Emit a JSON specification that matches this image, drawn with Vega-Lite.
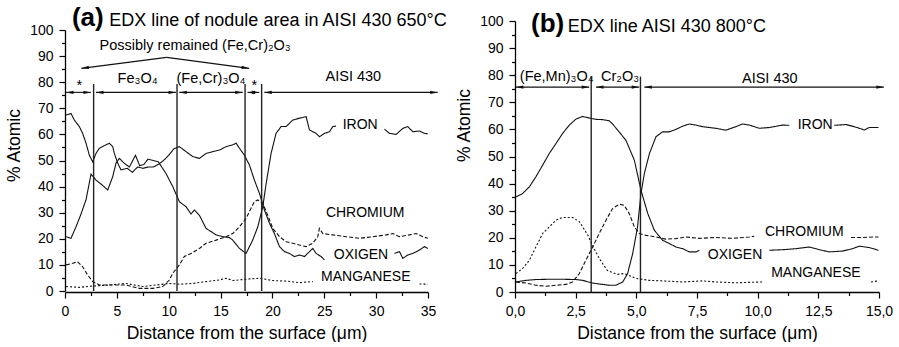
{
"$schema": "https://vega.github.io/schema/vega-lite/v6.json",
"padding": {"left": 5, "top": 5, "right": 0, "bottom": 0},
"config": {
  "font": "Liberation Sans",
  "view": {"stroke": null},
  "axis": {"domainColor": "#000", "tickColor": "#000", "labelColor": "#000", "titleColor": "#000", "labelFontSize": 14, "titleFontSize": 17.5, "titleFontWeight": "normal", "grid": false, "domainWidth": 1.3, "tickWidth": 1.2, "labelPadding": 6, "labelFlush": false, "labelOverlap": false, "labelFont": "Liberation Sans", "titleFont": "Liberation Sans"}
},
"datasets": {
  "curves": [
    {"p":"a","e":"IRON","g":"aF1","x":0.1,"y":20.8},{"p":"a","e":"IRON","g":"aF1","x":0.58,"y":20.2},{"p":"a","e":"IRON","g":"aF1","x":1.06,"y":24.6},{"p":"a","e":"IRON","g":"aF1","x":1.5,"y":29},{"p":"a","e":"IRON","g":"aF1","x":2.03,"y":35},{"p":"a","e":"IRON","g":"aF1","x":2.51,"y":44.8},{"p":"a","e":"IRON","g":"aF1","x":2.99,"y":42.5},{"p":"a","e":"IRON","g":"aF1","x":3.47,"y":41},{"p":"a","e":"IRON","g":"aF1","x":4.12,"y":38.7},{"p":"a","e":"IRON","g":"aF1","x":4.6,"y":43.8},{"p":"a","e":"IRON","g":"aF1","x":4.92,"y":49},{"p":"a","e":"IRON","g":"aF1","x":5.24,"y":50.8},{"p":"a","e":"IRON","g":"aF1","x":5.7,"y":49},{"p":"a","e":"IRON","g":"aF1","x":6.2,"y":47.5},{"p":"a","e":"IRON","g":"aF1","x":6.8,"y":52},{"p":"a","e":"IRON","g":"aF1","x":7.2,"y":48},{"p":"a","e":"IRON","g":"aF1","x":7.6,"y":48.5},{"p":"a","e":"IRON","g":"aF1","x":8,"y":50.5},{"p":"a","e":"IRON","g":"aF1","x":8.5,"y":50},{"p":"a","e":"IRON","g":"aF1","x":9,"y":49.5},{"p":"a","e":"IRON","g":"aF1","x":9.74,"y":45},{"p":"a","e":"IRON","g":"aF1","x":10.39,"y":40},{"p":"a","e":"IRON","g":"aF1","x":11.03,"y":34.2},{"p":"a","e":"IRON","g":"aF1","x":11.67,"y":32.3},{"p":"a","e":"IRON","g":"aF1","x":12.15,"y":29.5},{"p":"a","e":"IRON","g":"aF1","x":12.48,"y":31},{"p":"a","e":"IRON","g":"aF1","x":12.96,"y":29},{"p":"a","e":"IRON","g":"aF1","x":13.6,"y":24},{"p":"a","e":"IRON","g":"aF1","x":14.57,"y":21.5},{"p":"a","e":"IRON","g":"aF1","x":15.2,"y":20.8},{"p":"a","e":"IRON","g":"aF1","x":15.85,"y":20.5},{"p":"a","e":"IRON","g":"aF1","x":16.17,"y":19.5},{"p":"a","e":"IRON","g":"aF1","x":16.82,"y":16.3},{"p":"a","e":"IRON","g":"aF1","x":17.46,"y":14.4},{"p":"a","e":"IRON","g":"aF1","x":18.1,"y":19.5},{"p":"a","e":"IRON","g":"aF1","x":18.59,"y":24.6},{"p":"a","e":"IRON","g":"aF1","x":19.07,"y":32.3},{"p":"a","e":"IRON","g":"aF1","x":19.39,"y":41},{"p":"a","e":"IRON","g":"aF1","x":19.87,"y":52.7},{"p":"a","e":"IRON","g":"aF1","x":20.35,"y":60.4},{"p":"a","e":"IRON","g":"aF1","x":20.84,"y":63},{"p":"a","e":"IRON","g":"aF1","x":21.32,"y":63},{"p":"a","e":"IRON","g":"aF1","x":21.96,"y":65.5},{"p":"a","e":"IRON","g":"aF1","x":22.6,"y":66.2},{"p":"a","e":"IRON","g":"aF1","x":23.25,"y":66.8},{"p":"a","e":"IRON","g":"aF1","x":23.57,"y":61.7},{"p":"a","e":"IRON","g":"aF1","x":24.21,"y":60.4},{"p":"a","e":"IRON","g":"aF1","x":24.53,"y":59.1},{"p":"a","e":"IRON","g":"aF1","x":25.02,"y":60.4},{"p":"a","e":"IRON","g":"aF1","x":25.5,"y":61},{"p":"a","e":"IRON","g":"aF1","x":25.82,"y":63},{"p":"a","e":"IRON","g":"aF1","x":26.14,"y":63.2},
    {"p":"a","e":"IRON","g":"aF2","x":30.8,"y":62},{"p":"a","e":"IRON","g":"aF2","x":31.29,"y":60.4},{"p":"a","e":"IRON","g":"aF2","x":31.93,"y":60},{"p":"a","e":"IRON","g":"aF2","x":32.57,"y":62.3},{"p":"a","e":"IRON","g":"aF2","x":33.05,"y":63},{"p":"a","e":"IRON","g":"aF2","x":33.54,"y":61},{"p":"a","e":"IRON","g":"aF2","x":34.18,"y":61.3},{"p":"a","e":"IRON","g":"aF2","x":34.66,"y":60.4},{"p":"a","e":"IRON","g":"aF2","x":34.98,"y":60.2},
    {"p":"a","e":"OXIGEN","g":"aO1","x":0.1,"y":67.4},{"p":"a","e":"OXIGEN","g":"aO1","x":0.58,"y":68},{"p":"a","e":"OXIGEN","g":"aO1","x":0.9,"y":65.5},{"p":"a","e":"OXIGEN","g":"aO1","x":1.38,"y":63},{"p":"a","e":"OXIGEN","g":"aO1","x":1.7,"y":60.4},{"p":"a","e":"OXIGEN","g":"aO1","x":2.03,"y":56.6},{"p":"a","e":"OXIGEN","g":"aO1","x":2.35,"y":52},{"p":"a","e":"OXIGEN","g":"aO1","x":2.67,"y":49.5},{"p":"a","e":"OXIGEN","g":"aO1","x":2.99,"y":52.7},{"p":"a","e":"OXIGEN","g":"aO1","x":3.31,"y":54.7},{"p":"a","e":"OXIGEN","g":"aO1","x":3.95,"y":56},{"p":"a","e":"OXIGEN","g":"aO1","x":4.28,"y":56.6},{"p":"a","e":"OXIGEN","g":"aO1","x":4.6,"y":55.3},{"p":"a","e":"OXIGEN","g":"aO1","x":4.76,"y":52.7},{"p":"a","e":"OXIGEN","g":"aO1","x":5.08,"y":49},{"p":"a","e":"OXIGEN","g":"aO1","x":5.4,"y":46.4},{"p":"a","e":"OXIGEN","g":"aO1","x":6,"y":47},{"p":"a","e":"OXIGEN","g":"aO1","x":6.5,"y":45.5},{"p":"a","e":"OXIGEN","g":"aO1","x":7,"y":47.5},{"p":"a","e":"OXIGEN","g":"aO1","x":7.5,"y":47},{"p":"a","e":"OXIGEN","g":"aO1","x":8,"y":47.5},{"p":"a","e":"OXIGEN","g":"aO1","x":8.5,"y":47.5},{"p":"a","e":"OXIGEN","g":"aO1","x":9,"y":48.5},{"p":"a","e":"OXIGEN","g":"aO1","x":9.5,"y":50},{"p":"a","e":"OXIGEN","g":"aO1","x":10,"y":52},{"p":"a","e":"OXIGEN","g":"aO1","x":10.5,"y":54.5},{"p":"a","e":"OXIGEN","g":"aO1","x":11.03,"y":55.3},{"p":"a","e":"OXIGEN","g":"aO1","x":11.67,"y":53.4},{"p":"a","e":"OXIGEN","g":"aO1","x":12.32,"y":51.5},{"p":"a","e":"OXIGEN","g":"aO1","x":12.96,"y":50.8},{"p":"a","e":"OXIGEN","g":"aO1","x":13.6,"y":52.7},{"p":"a","e":"OXIGEN","g":"aO1","x":14.24,"y":53.4},{"p":"a","e":"OXIGEN","g":"aO1","x":14.89,"y":54},{"p":"a","e":"OXIGEN","g":"aO1","x":15.53,"y":55.3},{"p":"a","e":"OXIGEN","g":"aO1","x":16.17,"y":56},{"p":"a","e":"OXIGEN","g":"aO1","x":16.5,"y":56.6},{"p":"a","e":"OXIGEN","g":"aO1","x":16.82,"y":54.7},{"p":"a","e":"OXIGEN","g":"aO1","x":17.3,"y":52},{"p":"a","e":"OXIGEN","g":"aO1","x":17.78,"y":48.3},{"p":"a","e":"OXIGEN","g":"aO1","x":18.26,"y":42.5},{"p":"a","e":"OXIGEN","g":"aO1","x":18.75,"y":37.4},{"p":"a","e":"OXIGEN","g":"aO1","x":19.23,"y":31},{"p":"a","e":"OXIGEN","g":"aO1","x":19.71,"y":26},{"p":"a","e":"OXIGEN","g":"aO1","x":20.19,"y":22},{"p":"a","e":"OXIGEN","g":"aO1","x":20.68,"y":17},{"p":"a","e":"OXIGEN","g":"aO1","x":21.16,"y":15.1},{"p":"a","e":"OXIGEN","g":"aO1","x":21.64,"y":14.4},{"p":"a","e":"OXIGEN","g":"aO1","x":22.12,"y":13.2},{"p":"a","e":"OXIGEN","g":"aO1","x":22.6,"y":13.8},{"p":"a","e":"OXIGEN","g":"aO1","x":23.09,"y":13.2},{"p":"a","e":"OXIGEN","g":"aO1","x":23.57,"y":15.1},{"p":"a","e":"OXIGEN","g":"aO1","x":23.89,"y":16.3},{"p":"a","e":"OXIGEN","g":"aO1","x":24.21,"y":14.4},{"p":"a","e":"OXIGEN","g":"aO1","x":24.69,"y":13.2},{"p":"a","e":"OXIGEN","g":"aO1","x":25.02,"y":11.9},
    {"p":"a","e":"OXIGEN","g":"aO2","x":31.77,"y":14.4},{"p":"a","e":"OXIGEN","g":"aO2","x":32.25,"y":15.1},{"p":"a","e":"OXIGEN","g":"aO2","x":32.57,"y":12.5},{"p":"a","e":"OXIGEN","g":"aO2","x":33.05,"y":13.8},{"p":"a","e":"OXIGEN","g":"aO2","x":33.54,"y":14.4},{"p":"a","e":"OXIGEN","g":"aO2","x":34.18,"y":15.7},{"p":"a","e":"OXIGEN","g":"aO2","x":34.66,"y":17},{"p":"a","e":"OXIGEN","g":"aO2","x":34.98,"y":16.3},
    {"p":"a","e":"CHROMIUM","g":"aC1","x":0.1,"y":10},{"p":"a","e":"CHROMIUM","g":"aC1","x":0.74,"y":10.6},{"p":"a","e":"CHROMIUM","g":"aC1","x":1.22,"y":11.2},{"p":"a","e":"CHROMIUM","g":"aC1","x":1.7,"y":9.3},{"p":"a","e":"CHROMIUM","g":"aC1","x":2.19,"y":6.1},{"p":"a","e":"CHROMIUM","g":"aC1","x":2.67,"y":3.6},{"p":"a","e":"CHROMIUM","g":"aC1","x":3.31,"y":2.3},{"p":"a","e":"CHROMIUM","g":"aC1","x":4.6,"y":2.3},{"p":"a","e":"CHROMIUM","g":"aC1","x":5.88,"y":2.3},{"p":"a","e":"CHROMIUM","g":"aC1","x":7.17,"y":1},{"p":"a","e":"CHROMIUM","g":"aC1","x":8.46,"y":1},{"p":"a","e":"CHROMIUM","g":"aC1","x":9.42,"y":1.7},{"p":"a","e":"CHROMIUM","g":"aC1","x":10.06,"y":4.2},{"p":"a","e":"CHROMIUM","g":"aC1","x":10.39,"y":6.8},{"p":"a","e":"CHROMIUM","g":"aC1","x":11.03,"y":10},{"p":"a","e":"CHROMIUM","g":"aC1","x":11.51,"y":13.2},{"p":"a","e":"CHROMIUM","g":"aC1","x":12.15,"y":14.4},{"p":"a","e":"CHROMIUM","g":"aC1","x":12.96,"y":16.3},{"p":"a","e":"CHROMIUM","g":"aC1","x":13.6,"y":18.3},{"p":"a","e":"CHROMIUM","g":"aC1","x":14.57,"y":19.5},{"p":"a","e":"CHROMIUM","g":"aC1","x":15.53,"y":20.8},{"p":"a","e":"CHROMIUM","g":"aC1","x":16.17,"y":22},{"p":"a","e":"CHROMIUM","g":"aC1","x":16.82,"y":24.6},{"p":"a","e":"CHROMIUM","g":"aC1","x":17.46,"y":27.8},{"p":"a","e":"CHROMIUM","g":"aC1","x":17.94,"y":31.7},{"p":"a","e":"CHROMIUM","g":"aC1","x":18.26,"y":34.2},{"p":"a","e":"CHROMIUM","g":"aC1","x":18.59,"y":34.9},{"p":"a","e":"CHROMIUM","g":"aC1","x":19.07,"y":33.6},{"p":"a","e":"CHROMIUM","g":"aC1","x":19.55,"y":29},{"p":"a","e":"CHROMIUM","g":"aC1","x":20.03,"y":24},{"p":"a","e":"CHROMIUM","g":"aC1","x":20.68,"y":20.8},{"p":"a","e":"CHROMIUM","g":"aC1","x":21.32,"y":18.9},{"p":"a","e":"CHROMIUM","g":"aC1","x":21.96,"y":18.3},{"p":"a","e":"CHROMIUM","g":"aC1","x":22.6,"y":17.6},{"p":"a","e":"CHROMIUM","g":"aC1","x":23.25,"y":17},{"p":"a","e":"CHROMIUM","g":"aC1","x":23.89,"y":18.3},{"p":"a","e":"CHROMIUM","g":"aC1","x":24.37,"y":20.8},{"p":"a","e":"CHROMIUM","g":"aC1","x":24.53,"y":24},{"p":"a","e":"CHROMIUM","g":"aC1","x":24.86,"y":22},{"p":"a","e":"CHROMIUM","g":"aC1","x":25.82,"y":21.5},{"p":"a","e":"CHROMIUM","g":"aC1","x":27.11,"y":20.8},{"p":"a","e":"CHROMIUM","g":"aC1","x":28.39,"y":20.2},{"p":"a","e":"CHROMIUM","g":"aC1","x":29.68,"y":20.8},{"p":"a","e":"CHROMIUM","g":"aC1","x":30.96,"y":21.5},{"p":"a","e":"CHROMIUM","g":"aC1","x":31.61,"y":22},{"p":"a","e":"CHROMIUM","g":"aC1","x":32.25,"y":20.8},{"p":"a","e":"CHROMIUM","g":"aC1","x":33.22,"y":21.5},{"p":"a","e":"CHROMIUM","g":"aC1","x":33.86,"y":22},{"p":"a","e":"CHROMIUM","g":"aC1","x":34.5,"y":20.8},{"p":"a","e":"CHROMIUM","g":"aC1","x":34.98,"y":20.2},
    {"p":"a","e":"MANGANESE","g":"aM1","x":0.1,"y":1.7},{"p":"a","e":"MANGANESE","g":"aM1","x":1.38,"y":1.4},{"p":"a","e":"MANGANESE","g":"aM1","x":2.67,"y":1.9},{"p":"a","e":"MANGANESE","g":"aM1","x":4.28,"y":2.3},{"p":"a","e":"MANGANESE","g":"aM1","x":5.88,"y":2.9},{"p":"a","e":"MANGANESE","g":"aM1","x":7.49,"y":1.7},{"p":"a","e":"MANGANESE","g":"aM1","x":8.78,"y":2.3},{"p":"a","e":"MANGANESE","g":"aM1","x":10.06,"y":2.9},{"p":"a","e":"MANGANESE","g":"aM1","x":11.03,"y":2.6},{"p":"a","e":"MANGANESE","g":"aM1","x":12.32,"y":2.9},{"p":"a","e":"MANGANESE","g":"aM1","x":13.6,"y":3.6},{"p":"a","e":"MANGANESE","g":"aM1","x":14.89,"y":4.2},{"p":"a","e":"MANGANESE","g":"aM1","x":15.53,"y":4.9},{"p":"a","e":"MANGANESE","g":"aM1","x":16.17,"y":4},{"p":"a","e":"MANGANESE","g":"aM1","x":17.46,"y":4.5},{"p":"a","e":"MANGANESE","g":"aM1","x":18.75,"y":4.9},{"p":"a","e":"MANGANESE","g":"aM1","x":20.03,"y":4},{"p":"a","e":"MANGANESE","g":"aM1","x":21.32,"y":3.8},{"p":"a","e":"MANGANESE","g":"aM1","x":22.6,"y":3.2},{"p":"a","e":"MANGANESE","g":"aM1","x":23.89,"y":3.6},
    {"p":"a","e":"MANGANESE","g":"aM2","x":34.18,"y":2.7},{"p":"a","e":"MANGANESE","g":"aM2","x":34.98,"y":2.6},
    {"p":"b","e":"OXIGEN","g":"bO1","x":0.04,"y":35.1},{"p":"b","e":"OXIGEN","g":"bO1","x":0.31,"y":36.3},{"p":"b","e":"OXIGEN","g":"bO1","x":0.59,"y":38.8},{"p":"b","e":"OXIGEN","g":"bO1","x":0.86,"y":42.5},{"p":"b","e":"OXIGEN","g":"bO1","x":1.14,"y":46.8},{"p":"b","e":"OXIGEN","g":"bO1","x":1.41,"y":51.1},{"p":"b","e":"OXIGEN","g":"bO1","x":1.69,"y":54.8},{"p":"b","e":"OXIGEN","g":"bO1","x":1.96,"y":58.5},{"p":"b","e":"OXIGEN","g":"bO1","x":2.24,"y":61.6},{"p":"b","e":"OXIGEN","g":"bO1","x":2.51,"y":63.8},{"p":"b","e":"OXIGEN","g":"bO1","x":2.79,"y":64.8},{"p":"b","e":"OXIGEN","g":"bO1","x":3.06,"y":64.2},{"p":"b","e":"OXIGEN","g":"bO1","x":3.34,"y":63.7},{"p":"b","e":"OXIGEN","g":"bO1","x":3.61,"y":63.6},{"p":"b","e":"OXIGEN","g":"bO1","x":3.88,"y":63.2},{"p":"b","e":"OXIGEN","g":"bO1","x":4.02,"y":62},{"p":"b","e":"OXIGEN","g":"bO1","x":4.3,"y":59},{"p":"b","e":"OXIGEN","g":"bO1","x":4.57,"y":56},{"p":"b","e":"OXIGEN","g":"bO1","x":4.92,"y":48.6},{"p":"b","e":"OXIGEN","g":"bO1","x":5.19,"y":37.6},{"p":"b","e":"OXIGEN","g":"bO1","x":5.47,"y":29},{"p":"b","e":"OXIGEN","g":"bO1","x":5.74,"y":22.8},{"p":"b","e":"OXIGEN","g":"bO1","x":6.08,"y":19.1},{"p":"b","e":"OXIGEN","g":"bO1","x":6.36,"y":17.9},{"p":"b","e":"OXIGEN","g":"bO1","x":6.63,"y":16.6},{"p":"b","e":"OXIGEN","g":"bO1","x":6.91,"y":16},{"p":"b","e":"OXIGEN","g":"bO1","x":7.18,"y":14.8},{"p":"b","e":"OXIGEN","g":"bO1","x":7.46,"y":14.8},{"p":"b","e":"OXIGEN","g":"bO1","x":7.6,"y":15.4},
    {"p":"b","e":"OXIGEN","g":"bO2","x":10.48,"y":15.4},{"p":"b","e":"OXIGEN","g":"bO2","x":11.03,"y":15.6},{"p":"b","e":"OXIGEN","g":"bO2","x":11.58,"y":16},{"p":"b","e":"OXIGEN","g":"bO2","x":12.13,"y":16.6},{"p":"b","e":"OXIGEN","g":"bO2","x":12.54,"y":15.6},{"p":"b","e":"OXIGEN","g":"bO2","x":12.95,"y":14.8},{"p":"b","e":"OXIGEN","g":"bO2","x":13.5,"y":15.1},{"p":"b","e":"OXIGEN","g":"bO2","x":13.91,"y":16},{"p":"b","e":"OXIGEN","g":"bO2","x":14.19,"y":16.9},{"p":"b","e":"OXIGEN","g":"bO2","x":14.6,"y":16.4},{"p":"b","e":"OXIGEN","g":"bO2","x":14.98,"y":15.4},
    {"p":"b","e":"IRON","g":"bF1","x":0.04,"y":3.7},{"p":"b","e":"IRON","g":"bF1","x":0.45,"y":4.3},{"p":"b","e":"IRON","g":"bF1","x":0.86,"y":4.6},{"p":"b","e":"IRON","g":"bF1","x":1.41,"y":4.7},{"p":"b","e":"IRON","g":"bF1","x":1.96,"y":4.7},{"p":"b","e":"IRON","g":"bF1","x":2.51,"y":4.6},{"p":"b","e":"IRON","g":"bF1","x":2.79,"y":4.3},{"p":"b","e":"IRON","g":"bF1","x":3.2,"y":3.3},{"p":"b","e":"IRON","g":"bF1","x":3.61,"y":2.8},{"p":"b","e":"IRON","g":"bF1","x":3.88,"y":2.5},{"p":"b","e":"IRON","g":"bF1","x":4.16,"y":2.5},{"p":"b","e":"IRON","g":"bF1","x":4.44,"y":3.7},{"p":"b","e":"IRON","g":"bF1","x":4.64,"y":6.8},{"p":"b","e":"IRON","g":"bF1","x":4.85,"y":14.2},{"p":"b","e":"IRON","g":"bF1","x":5.05,"y":24},{"p":"b","e":"IRON","g":"bF1","x":5.19,"y":36.3},{"p":"b","e":"IRON","g":"bF1","x":5.33,"y":43.7},{"p":"b","e":"IRON","g":"bF1","x":5.54,"y":51.1},{"p":"b","e":"IRON","g":"bF1","x":5.81,"y":57.3},{"p":"b","e":"IRON","g":"bF1","x":6.08,"y":59.1},{"p":"b","e":"IRON","g":"bF1","x":6.36,"y":59.1},{"p":"b","e":"IRON","g":"bF1","x":6.63,"y":60},{"p":"b","e":"IRON","g":"bF1","x":6.91,"y":61.2},{"p":"b","e":"IRON","g":"bF1","x":7.18,"y":62},{"p":"b","e":"IRON","g":"bF1","x":7.46,"y":61.6},{"p":"b","e":"IRON","g":"bF1","x":7.73,"y":61},{"p":"b","e":"IRON","g":"bF1","x":8.28,"y":60.4},{"p":"b","e":"IRON","g":"bF1","x":8.69,"y":59.7},{"p":"b","e":"IRON","g":"bF1","x":9.1,"y":61},{"p":"b","e":"IRON","g":"bF1","x":9.38,"y":62},{"p":"b","e":"IRON","g":"bF1","x":9.65,"y":61.6},{"p":"b","e":"IRON","g":"bF1","x":10.07,"y":60.4},{"p":"b","e":"IRON","g":"bF1","x":10.48,"y":60.7},{"p":"b","e":"IRON","g":"bF1","x":11.03,"y":61.6},{"p":"b","e":"IRON","g":"bF1","x":11.3,"y":61.5},
    {"p":"b","e":"IRON","g":"bF2","x":13.16,"y":61.5},{"p":"b","e":"IRON","g":"bF2","x":13.64,"y":61.8},{"p":"b","e":"IRON","g":"bF2","x":13.98,"y":61},{"p":"b","e":"IRON","g":"bF2","x":14.4,"y":59.8},{"p":"b","e":"IRON","g":"bF2","x":14.6,"y":60.7},{"p":"b","e":"IRON","g":"bF2","x":14.98,"y":60.7},
    {"p":"b","e":"MANGANESE","g":"bM1","x":0.04,"y":6.8},{"p":"b","e":"MANGANESE","g":"bM1","x":0.31,"y":8.6},{"p":"b","e":"MANGANESE","g":"bM1","x":0.59,"y":11.7},{"p":"b","e":"MANGANESE","g":"bM1","x":0.86,"y":16.6},{"p":"b","e":"MANGANESE","g":"bM1","x":1.14,"y":21.6},{"p":"b","e":"MANGANESE","g":"bM1","x":1.41,"y":24},{"p":"b","e":"MANGANESE","g":"bM1","x":1.69,"y":26.5},{"p":"b","e":"MANGANESE","g":"bM1","x":1.96,"y":27.5},{"p":"b","e":"MANGANESE","g":"bM1","x":2.37,"y":27.5},{"p":"b","e":"MANGANESE","g":"bM1","x":2.65,"y":26},{"p":"b","e":"MANGANESE","g":"bM1","x":3.0,"y":21},{"p":"b","e":"MANGANESE","g":"bM1","x":3.2,"y":17},{"p":"b","e":"MANGANESE","g":"bM1","x":3.5,"y":12},{"p":"b","e":"MANGANESE","g":"bM1","x":3.8,"y":8},{"p":"b","e":"MANGANESE","g":"bM1","x":4.2,"y":6.5},{"p":"b","e":"MANGANESE","g":"bM1","x":4.5,"y":6.8},{"p":"b","e":"MANGANESE","g":"bM1","x":5.0,"y":5},{"p":"b","e":"MANGANESE","g":"bM1","x":5.53,"y":4.3},{"p":"b","e":"MANGANESE","g":"bM1","x":6.08,"y":4.1},{"p":"b","e":"MANGANESE","g":"bM1","x":6.91,"y":3.7},{"p":"b","e":"MANGANESE","g":"bM1","x":7.73,"y":4.1},{"p":"b","e":"MANGANESE","g":"bM1","x":8.28,"y":3.7},{"p":"b","e":"MANGANESE","g":"bM1","x":9.1,"y":3.4},{"p":"b","e":"MANGANESE","g":"bM1","x":10.2,"y":3.7},
    {"p":"b","e":"MANGANESE","g":"bM2","x":14.67,"y":3.7},{"p":"b","e":"MANGANESE","g":"bM2","x":14.98,"y":4.1},
    {"p":"b","e":"CHROMIUM","g":"bC1","x":0.04,"y":3.7},{"p":"b","e":"CHROMIUM","g":"bC1","x":0.45,"y":3.3},{"p":"b","e":"CHROMIUM","g":"bC1","x":0.86,"y":2.5},{"p":"b","e":"CHROMIUM","g":"bC1","x":1.27,"y":2.1},{"p":"b","e":"CHROMIUM","g":"bC1","x":1.69,"y":2.5},{"p":"b","e":"CHROMIUM","g":"bC1","x":2.1,"y":2.8},{"p":"b","e":"CHROMIUM","g":"bC1","x":2.37,"y":3.7},{"p":"b","e":"CHROMIUM","g":"bC1","x":2.65,"y":6.8},{"p":"b","e":"CHROMIUM","g":"bC1","x":2.92,"y":11.7},{"p":"b","e":"CHROMIUM","g":"bC1","x":3.2,"y":16.6},{"p":"b","e":"CHROMIUM","g":"bC1","x":3.47,"y":21.6},{"p":"b","e":"CHROMIUM","g":"bC1","x":3.75,"y":26.5},{"p":"b","e":"CHROMIUM","g":"bC1","x":4.02,"y":30.8},{"p":"b","e":"CHROMIUM","g":"bC1","x":4.3,"y":32.4},{"p":"b","e":"CHROMIUM","g":"bC1","x":4.5,"y":32},{"p":"b","e":"CHROMIUM","g":"bC1","x":4.71,"y":28.9},{"p":"b","e":"CHROMIUM","g":"bC1","x":4.92,"y":24},{"p":"b","e":"CHROMIUM","g":"bC1","x":5.12,"y":21.6},{"p":"b","e":"CHROMIUM","g":"bC1","x":5.4,"y":20.9},{"p":"b","e":"CHROMIUM","g":"bC1","x":5.81,"y":20.3},{"p":"b","e":"CHROMIUM","g":"bC1","x":6.22,"y":19.5},{"p":"b","e":"CHROMIUM","g":"bC1","x":6.63,"y":19.7},{"p":"b","e":"CHROMIUM","g":"bC1","x":7.04,"y":20.3},{"p":"b","e":"CHROMIUM","g":"bC1","x":7.6,"y":19.8},{"p":"b","e":"CHROMIUM","g":"bC1","x":8.28,"y":20.1},{"p":"b","e":"CHROMIUM","g":"bC1","x":8.97,"y":19.8},{"p":"b","e":"CHROMIUM","g":"bC1","x":9.66,"y":20.3},{"p":"b","e":"CHROMIUM","g":"bC1","x":9.86,"y":20.6},
    {"p":"b","e":"CHROMIUM","g":"bC2","x":13.85,"y":20.1},{"p":"b","e":"CHROMIUM","g":"bC2","x":14.33,"y":20.1},{"p":"b","e":"CHROMIUM","g":"bC2","x":14.74,"y":20.3},{"p":"b","e":"CHROMIUM","g":"bC2","x":14.98,"y":20.3}
  ],
  "vlines": [
    {"p":"a","x":2.76,"y0":0,"y1":79.3},{"p":"a","x":10.8,"y0":0,"y1":79.3},{"p":"a","x":17.36,"y0":0,"y1":79.3},{"p":"a","x":18.96,"y0":0,"y1":79.3},
    {"p":"b","x":3.14,"y0":0,"y1":79.5},{"p":"b","x":5.17,"y0":0,"y1":79.5}
  ],
  "arrows": [
    {"p":"a","x1":0.1,"x2":2.5,"y":76.1},{"p":"a","x1":2.99,"x2":10.7,"y":76.1},{"p":"a","x1":11.02,"x2":17.13,"y":76.1},{"p":"a","x1":17.6,"x2":18.74,"y":76.1},{"p":"a","x1":19.22,"x2":35.93,"y":76.1},
    {"p":"b","x1":0.04,"x2":3.06,"y":75.6},{"p":"b","x1":3.34,"x2":5.12,"y":75.6},{"p":"b","x1":5.33,"x2":15.2,"y":75.6}
  ],
  "bracket": [
    {"p":"a","x":1.58,"y":85.3,"x2":9.8,"y2":89.5},{"p":"a","x":9.8,"y":89.5,"x2":17.75,"y2":85.3}
  ],
  "texts": [
    {"p":"a","k":"tag","t":"(a)","x":0.67,"y":101.5},
    {"p":"a","k":"title","t":"EDX line of nodule area in AISI 430 650°C","x":4.27,"y":101.5},
    {"p":"b","k":"tag","t":"(b)","x":0.66,"y":96},
    {"p":"b","k":"title","t":"EDX line AISI 430 800°C","x":2.17,"y":96},
    {"p":"a","k":"region","t":"*","x":1.38,"y":77},
    {"p":"a","k":"region","t":"Fe₃O₄","x":7.0,"y":79.8},
    {"p":"a","k":"region","t":"(Fe,Cr)₃O₄","x":14.08,"y":79.8},
    {"p":"a","k":"region","t":"*","x":18.25,"y":77},
    {"p":"a","k":"region","t":"AISI 430","x":27.8,"y":80.6},
    {"p":"a","k":"region","t":"Possibly  remained (Fe,Cr)₂O₃","x":12.55,"y":92.5},
    {"p":"b","k":"region","t":"(Fe,Mn)₃O₄","x":1.72,"y":77.8},
    {"p":"b","k":"region","t":"Cr₂O₃","x":4.33,"y":77.8},
    {"p":"b","k":"region","t":"AISI 430","x":10.5,"y":77.2},
    {"p":"a","k":"elem","t":"IRON","x":28.46,"y":63.6},
    {"p":"a","k":"elem","t":"CHROMIUM","x":28.94,"y":29.8},
    {"p":"a","k":"elem","t":"OXIGEN","x":28.54,"y":13.8},
    {"p":"a","k":"elem","t":"MANGANESE","x":29.0,"y":5.5},
    {"p":"b","k":"elem","t":"IRON","x":12.37,"y":61.6},
    {"p":"b","k":"elem","t":"CHROMIUM","x":11.92,"y":22.2},
    {"p":"b","k":"elem","t":"OXIGEN","x":9.07,"y":13.6},
    {"p":"b","k":"elem","t":"MANGANESE","x":12.4,"y":7.0}
  ]
},
"spacing": 87,
"bounds": "flush",
"hconcat": [
  {
    "width": 363, "height": 271,
    "layer": [
      {"data": {"name": "curves"}, "transform": [{"filter": "datum.p === 'a'"}],
       "mark": {"type": "line", "color": "#111", "strokeWidth": 1.1},
       "encoding": {
         "x": {"field": "x", "type": "quantitative", "scale": {"domain": [0, 35], "nice": false, "zero": false},
               "axis": {"title": "Distance from the surface (μm)", "values": [0,2.5,5,7.5,10,12.5,15,17.5,20,22.5,25,27.5,30,32.5,35], "labelExpr": "datum.value % 5 === 0 ? datum.label : ''", "tickSize": {"condition": {"test": "datum.value % 5 !== 0", "value": 3.5}, "value": 6}, "titlePadding": 6}},
         "y": {"field": "y", "type": "quantitative", "scale": {"domain": [0, 100], "range": [270, 9], "nice": false, "zero": false},
               "axis": {"title": "% Atomic", "values": [0,5,10,15,20,25,30,35,40,45,50,55,60,65,70,75,80,85,90,95,100], "labelExpr": "datum.value % 10 === 0 ? datum.label : ''", "tickSize": {"condition": {"test": "datum.value % 10 !== 0", "value": 3.5}, "value": 6}, "titlePadding": 6, "titleY": 124}},
         "detail": {"field": "g"},
         "strokeDash": {"field": "e", "type": "nominal", "scale": {"domain": ["IRON","OXIGEN","CHROMIUM","MANGANESE"], "range": [[1,0],[1,0],[4,2],[2,2]]}, "legend": null}
       }},
      {"data": {"name": "vlines"}, "transform": [{"filter": "datum.p === 'a'"}],
       "mark": {"type": "rule", "color": "#222", "strokeWidth": 1.4},
       "encoding": {"x": {"field": "x", "type": "quantitative", "axis": {"title": "Distance from the surface (μm)", "values": [0,2.5,5,7.5,10,12.5,15,17.5,20,22.5,25,27.5,30,32.5,35], "labelExpr": "datum.value % 5 === 0 ? datum.label : ''", "tickSize": {"condition": {"test": "datum.value % 5 !== 0", "value": 3.5}, "value": 6}, "titlePadding": 6}}, "y": {"field": "y0", "type": "quantitative", "axis": {"title": "% Atomic", "values": [0,5,10,15,20,25,30,35,40,45,50,55,60,65,70,75,80,85,90,95,100], "labelExpr": "datum.value % 10 === 0 ? datum.label : ''", "tickSize": {"condition": {"test": "datum.value % 10 !== 0", "value": 3.5}, "value": 6}, "titlePadding": 6, "titleY": 124}}, "y2": {"field": "y1"}}},
      {"data": {"name": "arrows"}, "transform": [{"filter": "datum.p === 'a'"}],
       "mark": {"type": "rule", "color": "#111", "strokeWidth": 1.1},
       "encoding": {"x": {"field": "x1", "type": "quantitative", "axis": {"title": "Distance from the surface (μm)", "values": [0,2.5,5,7.5,10,12.5,15,17.5,20,22.5,25,27.5,30,32.5,35], "labelExpr": "datum.value % 5 === 0 ? datum.label : ''", "tickSize": {"condition": {"test": "datum.value % 5 !== 0", "value": 3.5}, "value": 6}, "titlePadding": 6}}, "x2": {"field": "x2"}, "y": {"field": "y", "type": "quantitative", "axis": {"title": "% Atomic", "values": [0,5,10,15,20,25,30,35,40,45,50,55,60,65,70,75,80,85,90,95,100], "labelExpr": "datum.value % 10 === 0 ? datum.label : ''", "tickSize": {"condition": {"test": "datum.value % 10 !== 0", "value": 3.5}, "value": 6}, "titlePadding": 6, "titleY": 124}}}},
      {"data": {"name": "arrows"}, "transform": [{"filter": "datum.p === 'a'"}],
       "mark": {"type": "point", "filled": true, "color": "#111", "opacity": 1, "size": 56, "shape": "M0,0L2,-0.45L2,0.45Z"},
       "encoding": {"x": {"field": "x1", "type": "quantitative", "axis": {"title": "Distance from the surface (μm)", "values": [0,2.5,5,7.5,10,12.5,15,17.5,20,22.5,25,27.5,30,32.5,35], "labelExpr": "datum.value % 5 === 0 ? datum.label : ''", "tickSize": {"condition": {"test": "datum.value % 5 !== 0", "value": 3.5}, "value": 6}, "titlePadding": 6}}, "y": {"field": "y", "type": "quantitative", "axis": {"title": "% Atomic", "values": [0,5,10,15,20,25,30,35,40,45,50,55,60,65,70,75,80,85,90,95,100], "labelExpr": "datum.value % 10 === 0 ? datum.label : ''", "tickSize": {"condition": {"test": "datum.value % 10 !== 0", "value": 3.5}, "value": 6}, "titlePadding": 6, "titleY": 124}}}},
      {"data": {"name": "arrows"}, "transform": [{"filter": "datum.p === 'a'"}],
       "mark": {"type": "point", "filled": true, "color": "#111", "opacity": 1, "size": 56, "shape": "M0,0L-2,-0.45L-2,0.45Z"},
       "encoding": {"x": {"field": "x2", "type": "quantitative", "axis": {"title": "Distance from the surface (μm)", "values": [0,2.5,5,7.5,10,12.5,15,17.5,20,22.5,25,27.5,30,32.5,35], "labelExpr": "datum.value % 5 === 0 ? datum.label : ''", "tickSize": {"condition": {"test": "datum.value % 5 !== 0", "value": 3.5}, "value": 6}, "titlePadding": 6}}, "y": {"field": "y", "type": "quantitative", "axis": {"title": "% Atomic", "values": [0,5,10,15,20,25,30,35,40,45,50,55,60,65,70,75,80,85,90,95,100], "labelExpr": "datum.value % 10 === 0 ? datum.label : ''", "tickSize": {"condition": {"test": "datum.value % 10 !== 0", "value": 3.5}, "value": 6}, "titlePadding": 6, "titleY": 124}}}},
      {"data": {"name": "bracket"},
       "mark": {"type": "rule", "color": "#111", "strokeWidth": 1.1},
       "encoding": {"x": {"field": "x", "type": "quantitative", "axis": {"title": "Distance from the surface (μm)", "values": [0,2.5,5,7.5,10,12.5,15,17.5,20,22.5,25,27.5,30,32.5,35], "labelExpr": "datum.value % 5 === 0 ? datum.label : ''", "tickSize": {"condition": {"test": "datum.value % 5 !== 0", "value": 3.5}, "value": 6}, "titlePadding": 6}}, "x2": {"field": "x2"}, "y": {"field": "y", "type": "quantitative", "axis": {"title": "% Atomic", "values": [0,5,10,15,20,25,30,35,40,45,50,55,60,65,70,75,80,85,90,95,100], "labelExpr": "datum.value % 10 === 0 ? datum.label : ''", "tickSize": {"condition": {"test": "datum.value % 10 !== 0", "value": 3.5}, "value": 6}, "titlePadding": 6, "titleY": 124}}, "y2": {"field": "y2"}}},
      {"data": {"name": "bracket"}, "transform": [{"filter": "datum.x < 5"}],
       "mark": {"type": "point", "filled": true, "color": "#111", "opacity": 1, "size": 56, "angle": -7.4, "shape": "M0,0L2,-0.45L2,0.45Z"},
       "encoding": {"x": {"field": "x", "type": "quantitative", "axis": {"title": "Distance from the surface (μm)", "values": [0,2.5,5,7.5,10,12.5,15,17.5,20,22.5,25,27.5,30,32.5,35], "labelExpr": "datum.value % 5 === 0 ? datum.label : ''", "tickSize": {"condition": {"test": "datum.value % 5 !== 0", "value": 3.5}, "value": 6}, "titlePadding": 6}}, "y": {"field": "y", "type": "quantitative", "axis": {"title": "% Atomic", "values": [0,5,10,15,20,25,30,35,40,45,50,55,60,65,70,75,80,85,90,95,100], "labelExpr": "datum.value % 10 === 0 ? datum.label : ''", "tickSize": {"condition": {"test": "datum.value % 10 !== 0", "value": 3.5}, "value": 6}, "titlePadding": 6, "titleY": 124}}}},
      {"data": {"name": "bracket"}, "transform": [{"filter": "datum.x > 5"}],
       "mark": {"type": "point", "filled": true, "color": "#111", "opacity": 1, "size": 56, "angle": 7.4, "shape": "M0,0L-2,-0.45L-2,0.45Z"},
       "encoding": {"x": {"field": "x2", "type": "quantitative", "axis": {"title": "Distance from the surface (μm)", "values": [0,2.5,5,7.5,10,12.5,15,17.5,20,22.5,25,27.5,30,32.5,35], "labelExpr": "datum.value % 5 === 0 ? datum.label : ''", "tickSize": {"condition": {"test": "datum.value % 5 !== 0", "value": 3.5}, "value": 6}, "titlePadding": 6}}, "y": {"field": "y2", "type": "quantitative", "axis": {"title": "% Atomic", "values": [0,5,10,15,20,25,30,35,40,45,50,55,60,65,70,75,80,85,90,95,100], "labelExpr": "datum.value % 10 === 0 ? datum.label : ''", "tickSize": {"condition": {"test": "datum.value % 10 !== 0", "value": 3.5}, "value": 6}, "titlePadding": 6, "titleY": 124}}}},
      {"data": {"name": "texts"}, "transform": [{"filter": "datum.p === 'a' && datum.k === 'tag'"}],
       "mark": {"type": "text", "align": "left", "baseline": "alphabetic", "fontSize": 26, "fontWeight": "bold", "color": "#000"},
       "encoding": {"x": {"field": "x", "type": "quantitative", "axis": {"title": "Distance from the surface (μm)", "values": [0,2.5,5,7.5,10,12.5,15,17.5,20,22.5,25,27.5,30,32.5,35], "labelExpr": "datum.value % 5 === 0 ? datum.label : ''", "tickSize": {"condition": {"test": "datum.value % 5 !== 0", "value": 3.5}, "value": 6}, "titlePadding": 6}}, "y": {"field": "y", "type": "quantitative", "axis": {"title": "% Atomic", "values": [0,5,10,15,20,25,30,35,40,45,50,55,60,65,70,75,80,85,90,95,100], "labelExpr": "datum.value % 10 === 0 ? datum.label : ''", "tickSize": {"condition": {"test": "datum.value % 10 !== 0", "value": 3.5}, "value": 6}, "titlePadding": 6, "titleY": 124}}, "text": {"field": "t"}}},
      {"data": {"name": "texts"}, "transform": [{"filter": "datum.p === 'a' && datum.k === 'title'"}],
       "mark": {"type": "text", "align": "left", "baseline": "alphabetic", "fontSize": 18, "color": "#000"},
       "encoding": {"x": {"field": "x", "type": "quantitative", "axis": {"title": "Distance from the surface (μm)", "values": [0,2.5,5,7.5,10,12.5,15,17.5,20,22.5,25,27.5,30,32.5,35], "labelExpr": "datum.value % 5 === 0 ? datum.label : ''", "tickSize": {"condition": {"test": "datum.value % 5 !== 0", "value": 3.5}, "value": 6}, "titlePadding": 6}}, "y": {"field": "y", "type": "quantitative", "axis": {"title": "% Atomic", "values": [0,5,10,15,20,25,30,35,40,45,50,55,60,65,70,75,80,85,90,95,100], "labelExpr": "datum.value % 10 === 0 ? datum.label : ''", "tickSize": {"condition": {"test": "datum.value % 10 !== 0", "value": 3.5}, "value": 6}, "titlePadding": 6, "titleY": 124}}, "text": {"field": "t"}}},
      {"data": {"name": "texts"}, "transform": [{"filter": "datum.p === 'a' && datum.k === 'region'"}],
       "mark": {"type": "text", "align": "center", "baseline": "alphabetic", "fontSize": 14.5, "color": "#000"},
       "encoding": {"x": {"field": "x", "type": "quantitative", "axis": {"title": "Distance from the surface (μm)", "values": [0,2.5,5,7.5,10,12.5,15,17.5,20,22.5,25,27.5,30,32.5,35], "labelExpr": "datum.value % 5 === 0 ? datum.label : ''", "tickSize": {"condition": {"test": "datum.value % 5 !== 0", "value": 3.5}, "value": 6}, "titlePadding": 6}}, "y": {"field": "y", "type": "quantitative", "axis": {"title": "% Atomic", "values": [0,5,10,15,20,25,30,35,40,45,50,55,60,65,70,75,80,85,90,95,100], "labelExpr": "datum.value % 10 === 0 ? datum.label : ''", "tickSize": {"condition": {"test": "datum.value % 10 !== 0", "value": 3.5}, "value": 6}, "titlePadding": 6, "titleY": 124}}, "text": {"field": "t"}}},
      {"data": {"name": "texts"}, "transform": [{"filter": "datum.p === 'a' && datum.k === 'elem'"}],
       "mark": {"type": "text", "align": "center", "baseline": "middle", "fontSize": 14, "color": "#000"},
       "encoding": {"x": {"field": "x", "type": "quantitative", "axis": {"title": "Distance from the surface (μm)", "values": [0,2.5,5,7.5,10,12.5,15,17.5,20,22.5,25,27.5,30,32.5,35], "labelExpr": "datum.value % 5 === 0 ? datum.label : ''", "tickSize": {"condition": {"test": "datum.value % 5 !== 0", "value": 3.5}, "value": 6}, "titlePadding": 6}}, "y": {"field": "y", "type": "quantitative", "axis": {"title": "% Atomic", "values": [0,5,10,15,20,25,30,35,40,45,50,55,60,65,70,75,80,85,90,95,100], "labelExpr": "datum.value % 10 === 0 ? datum.label : ''", "tickSize": {"condition": {"test": "datum.value % 10 !== 0", "value": 3.5}, "value": 6}, "titlePadding": 6, "titleY": 124}}, "text": {"field": "t"}}}
    ]
  },
  {
    "width": 364, "height": 271,
    "layer": [
      {"data": {"name": "curves"}, "transform": [{"filter": "datum.p === 'b'"}],
       "mark": {"type": "line", "color": "#111", "strokeWidth": 1.1},
       "encoding": {
         "x": {"field": "x", "type": "quantitative", "scale": {"domain": [0, 15], "nice": false, "zero": false},
               "axis": {"title": "Distance from the surface (μm)", "values": [0,1.25,2.5,3.75,5,6.25,7.5,8.75,10,11.25,12.5,13.75,15], "labelExpr": "datum.value % 2.5 === 0 ? replace(format(datum.value, '.1f'), '.', ',') : ''", "tickSize": {"condition": {"test": "datum.value % 2.5 !== 0", "value": 3.5}, "value": 6}, "titlePadding": 6}},
         "y": {"field": "y", "type": "quantitative", "scale": {"domain": [0, 100], "nice": false, "zero": false},
               "axis": {"title": "% Atomic", "values": [0,5,10,15,20,25,30,35,40,45,50,55,60,65,70,75,80,85,90,95,100], "labelExpr": "datum.value % 10 === 0 ? datum.label : ''", "tickSize": {"condition": {"test": "datum.value % 10 !== 0", "value": 3.5}, "value": 6}, "titlePadding": 6, "titleY": 104}},
         "detail": {"field": "g"},
         "strokeDash": {"field": "e", "type": "nominal", "scale": {"domain": ["IRON","OXIGEN","CHROMIUM","MANGANESE"], "range": [[1,0],[1,0],[4,2],[1.5,1.5]]}, "legend": null}
       }},
      {"data": {"name": "vlines"}, "transform": [{"filter": "datum.p === 'b'"}],
       "mark": {"type": "rule", "color": "#222", "strokeWidth": 1.4},
       "encoding": {"x": {"field": "x", "type": "quantitative", "axis": {"title": "Distance from the surface (μm)", "values": [0,1.25,2.5,3.75,5,6.25,7.5,8.75,10,11.25,12.5,13.75,15], "labelExpr": "datum.value % 2.5 === 0 ? replace(format(datum.value, '.1f'), '.', ',') : ''", "tickSize": {"condition": {"test": "datum.value % 2.5 !== 0", "value": 3.5}, "value": 6}, "titlePadding": 6}}, "y": {"field": "y0", "type": "quantitative", "axis": {"title": "% Atomic", "values": [0,5,10,15,20,25,30,35,40,45,50,55,60,65,70,75,80,85,90,95,100], "labelExpr": "datum.value % 10 === 0 ? datum.label : ''", "tickSize": {"condition": {"test": "datum.value % 10 !== 0", "value": 3.5}, "value": 6}, "titlePadding": 6, "titleY": 104}}, "y2": {"field": "y1"}}},
      {"data": {"name": "arrows"}, "transform": [{"filter": "datum.p === 'b'"}],
       "mark": {"type": "rule", "color": "#111", "strokeWidth": 1.1},
       "encoding": {"x": {"field": "x1", "type": "quantitative", "axis": {"title": "Distance from the surface (μm)", "values": [0,1.25,2.5,3.75,5,6.25,7.5,8.75,10,11.25,12.5,13.75,15], "labelExpr": "datum.value % 2.5 === 0 ? replace(format(datum.value, '.1f'), '.', ',') : ''", "tickSize": {"condition": {"test": "datum.value % 2.5 !== 0", "value": 3.5}, "value": 6}, "titlePadding": 6}}, "x2": {"field": "x2"}, "y": {"field": "y", "type": "quantitative", "axis": {"title": "% Atomic", "values": [0,5,10,15,20,25,30,35,40,45,50,55,60,65,70,75,80,85,90,95,100], "labelExpr": "datum.value % 10 === 0 ? datum.label : ''", "tickSize": {"condition": {"test": "datum.value % 10 !== 0", "value": 3.5}, "value": 6}, "titlePadding": 6, "titleY": 104}}}},
      {"data": {"name": "arrows"}, "transform": [{"filter": "datum.p === 'b'"}],
       "mark": {"type": "point", "filled": true, "color": "#111", "opacity": 1, "size": 56, "shape": "M0,0L2,-0.45L2,0.45Z"},
       "encoding": {"x": {"field": "x1", "type": "quantitative", "axis": {"title": "Distance from the surface (μm)", "values": [0,1.25,2.5,3.75,5,6.25,7.5,8.75,10,11.25,12.5,13.75,15], "labelExpr": "datum.value % 2.5 === 0 ? replace(format(datum.value, '.1f'), '.', ',') : ''", "tickSize": {"condition": {"test": "datum.value % 2.5 !== 0", "value": 3.5}, "value": 6}, "titlePadding": 6}}, "y": {"field": "y", "type": "quantitative", "axis": {"title": "% Atomic", "values": [0,5,10,15,20,25,30,35,40,45,50,55,60,65,70,75,80,85,90,95,100], "labelExpr": "datum.value % 10 === 0 ? datum.label : ''", "tickSize": {"condition": {"test": "datum.value % 10 !== 0", "value": 3.5}, "value": 6}, "titlePadding": 6, "titleY": 104}}}},
      {"data": {"name": "arrows"}, "transform": [{"filter": "datum.p === 'b'"}],
       "mark": {"type": "point", "filled": true, "color": "#111", "opacity": 1, "size": 56, "shape": "M0,0L-2,-0.45L-2,0.45Z"},
       "encoding": {"x": {"field": "x2", "type": "quantitative", "axis": {"title": "Distance from the surface (μm)", "values": [0,1.25,2.5,3.75,5,6.25,7.5,8.75,10,11.25,12.5,13.75,15], "labelExpr": "datum.value % 2.5 === 0 ? replace(format(datum.value, '.1f'), '.', ',') : ''", "tickSize": {"condition": {"test": "datum.value % 2.5 !== 0", "value": 3.5}, "value": 6}, "titlePadding": 6}}, "y": {"field": "y", "type": "quantitative", "axis": {"title": "% Atomic", "values": [0,5,10,15,20,25,30,35,40,45,50,55,60,65,70,75,80,85,90,95,100], "labelExpr": "datum.value % 10 === 0 ? datum.label : ''", "tickSize": {"condition": {"test": "datum.value % 10 !== 0", "value": 3.5}, "value": 6}, "titlePadding": 6, "titleY": 104}}}},
      {"data": {"name": "texts"}, "transform": [{"filter": "datum.p === 'b' && datum.k === 'tag'"}],
       "mark": {"type": "text", "align": "left", "baseline": "alphabetic", "fontSize": 26, "fontWeight": "bold", "color": "#000"},
       "encoding": {"x": {"field": "x", "type": "quantitative", "axis": {"title": "Distance from the surface (μm)", "values": [0,1.25,2.5,3.75,5,6.25,7.5,8.75,10,11.25,12.5,13.75,15], "labelExpr": "datum.value % 2.5 === 0 ? replace(format(datum.value, '.1f'), '.', ',') : ''", "tickSize": {"condition": {"test": "datum.value % 2.5 !== 0", "value": 3.5}, "value": 6}, "titlePadding": 6}}, "y": {"field": "y", "type": "quantitative", "axis": {"title": "% Atomic", "values": [0,5,10,15,20,25,30,35,40,45,50,55,60,65,70,75,80,85,90,95,100], "labelExpr": "datum.value % 10 === 0 ? datum.label : ''", "tickSize": {"condition": {"test": "datum.value % 10 !== 0", "value": 3.5}, "value": 6}, "titlePadding": 6, "titleY": 104}}, "text": {"field": "t"}}},
      {"data": {"name": "texts"}, "transform": [{"filter": "datum.p === 'b' && datum.k === 'title'"}],
       "mark": {"type": "text", "align": "left", "baseline": "alphabetic", "fontSize": 18, "color": "#000"},
       "encoding": {"x": {"field": "x", "type": "quantitative", "axis": {"title": "Distance from the surface (μm)", "values": [0,1.25,2.5,3.75,5,6.25,7.5,8.75,10,11.25,12.5,13.75,15], "labelExpr": "datum.value % 2.5 === 0 ? replace(format(datum.value, '.1f'), '.', ',') : ''", "tickSize": {"condition": {"test": "datum.value % 2.5 !== 0", "value": 3.5}, "value": 6}, "titlePadding": 6}}, "y": {"field": "y", "type": "quantitative", "axis": {"title": "% Atomic", "values": [0,5,10,15,20,25,30,35,40,45,50,55,60,65,70,75,80,85,90,95,100], "labelExpr": "datum.value % 10 === 0 ? datum.label : ''", "tickSize": {"condition": {"test": "datum.value % 10 !== 0", "value": 3.5}, "value": 6}, "titlePadding": 6, "titleY": 104}}, "text": {"field": "t"}}},
      {"data": {"name": "texts"}, "transform": [{"filter": "datum.p === 'b' && datum.k === 'region'"}],
       "mark": {"type": "text", "align": "center", "baseline": "alphabetic", "fontSize": 14.5, "color": "#000"},
       "encoding": {"x": {"field": "x", "type": "quantitative", "axis": {"title": "Distance from the surface (μm)", "values": [0,1.25,2.5,3.75,5,6.25,7.5,8.75,10,11.25,12.5,13.75,15], "labelExpr": "datum.value % 2.5 === 0 ? replace(format(datum.value, '.1f'), '.', ',') : ''", "tickSize": {"condition": {"test": "datum.value % 2.5 !== 0", "value": 3.5}, "value": 6}, "titlePadding": 6}}, "y": {"field": "y", "type": "quantitative", "axis": {"title": "% Atomic", "values": [0,5,10,15,20,25,30,35,40,45,50,55,60,65,70,75,80,85,90,95,100], "labelExpr": "datum.value % 10 === 0 ? datum.label : ''", "tickSize": {"condition": {"test": "datum.value % 10 !== 0", "value": 3.5}, "value": 6}, "titlePadding": 6, "titleY": 104}}, "text": {"field": "t"}}},
      {"data": {"name": "texts"}, "transform": [{"filter": "datum.p === 'b' && datum.k === 'elem'"}],
       "mark": {"type": "text", "align": "center", "baseline": "middle", "fontSize": 14, "color": "#000"},
       "encoding": {"x": {"field": "x", "type": "quantitative", "axis": {"title": "Distance from the surface (μm)", "values": [0,1.25,2.5,3.75,5,6.25,7.5,8.75,10,11.25,12.5,13.75,15], "labelExpr": "datum.value % 2.5 === 0 ? replace(format(datum.value, '.1f'), '.', ',') : ''", "tickSize": {"condition": {"test": "datum.value % 2.5 !== 0", "value": 3.5}, "value": 6}, "titlePadding": 6}}, "y": {"field": "y", "type": "quantitative", "axis": {"title": "% Atomic", "values": [0,5,10,15,20,25,30,35,40,45,50,55,60,65,70,75,80,85,90,95,100], "labelExpr": "datum.value % 10 === 0 ? datum.label : ''", "tickSize": {"condition": {"test": "datum.value % 10 !== 0", "value": 3.5}, "value": 6}, "titlePadding": 6, "titleY": 104}}, "text": {"field": "t"}}}
    ]
  }
]
}
